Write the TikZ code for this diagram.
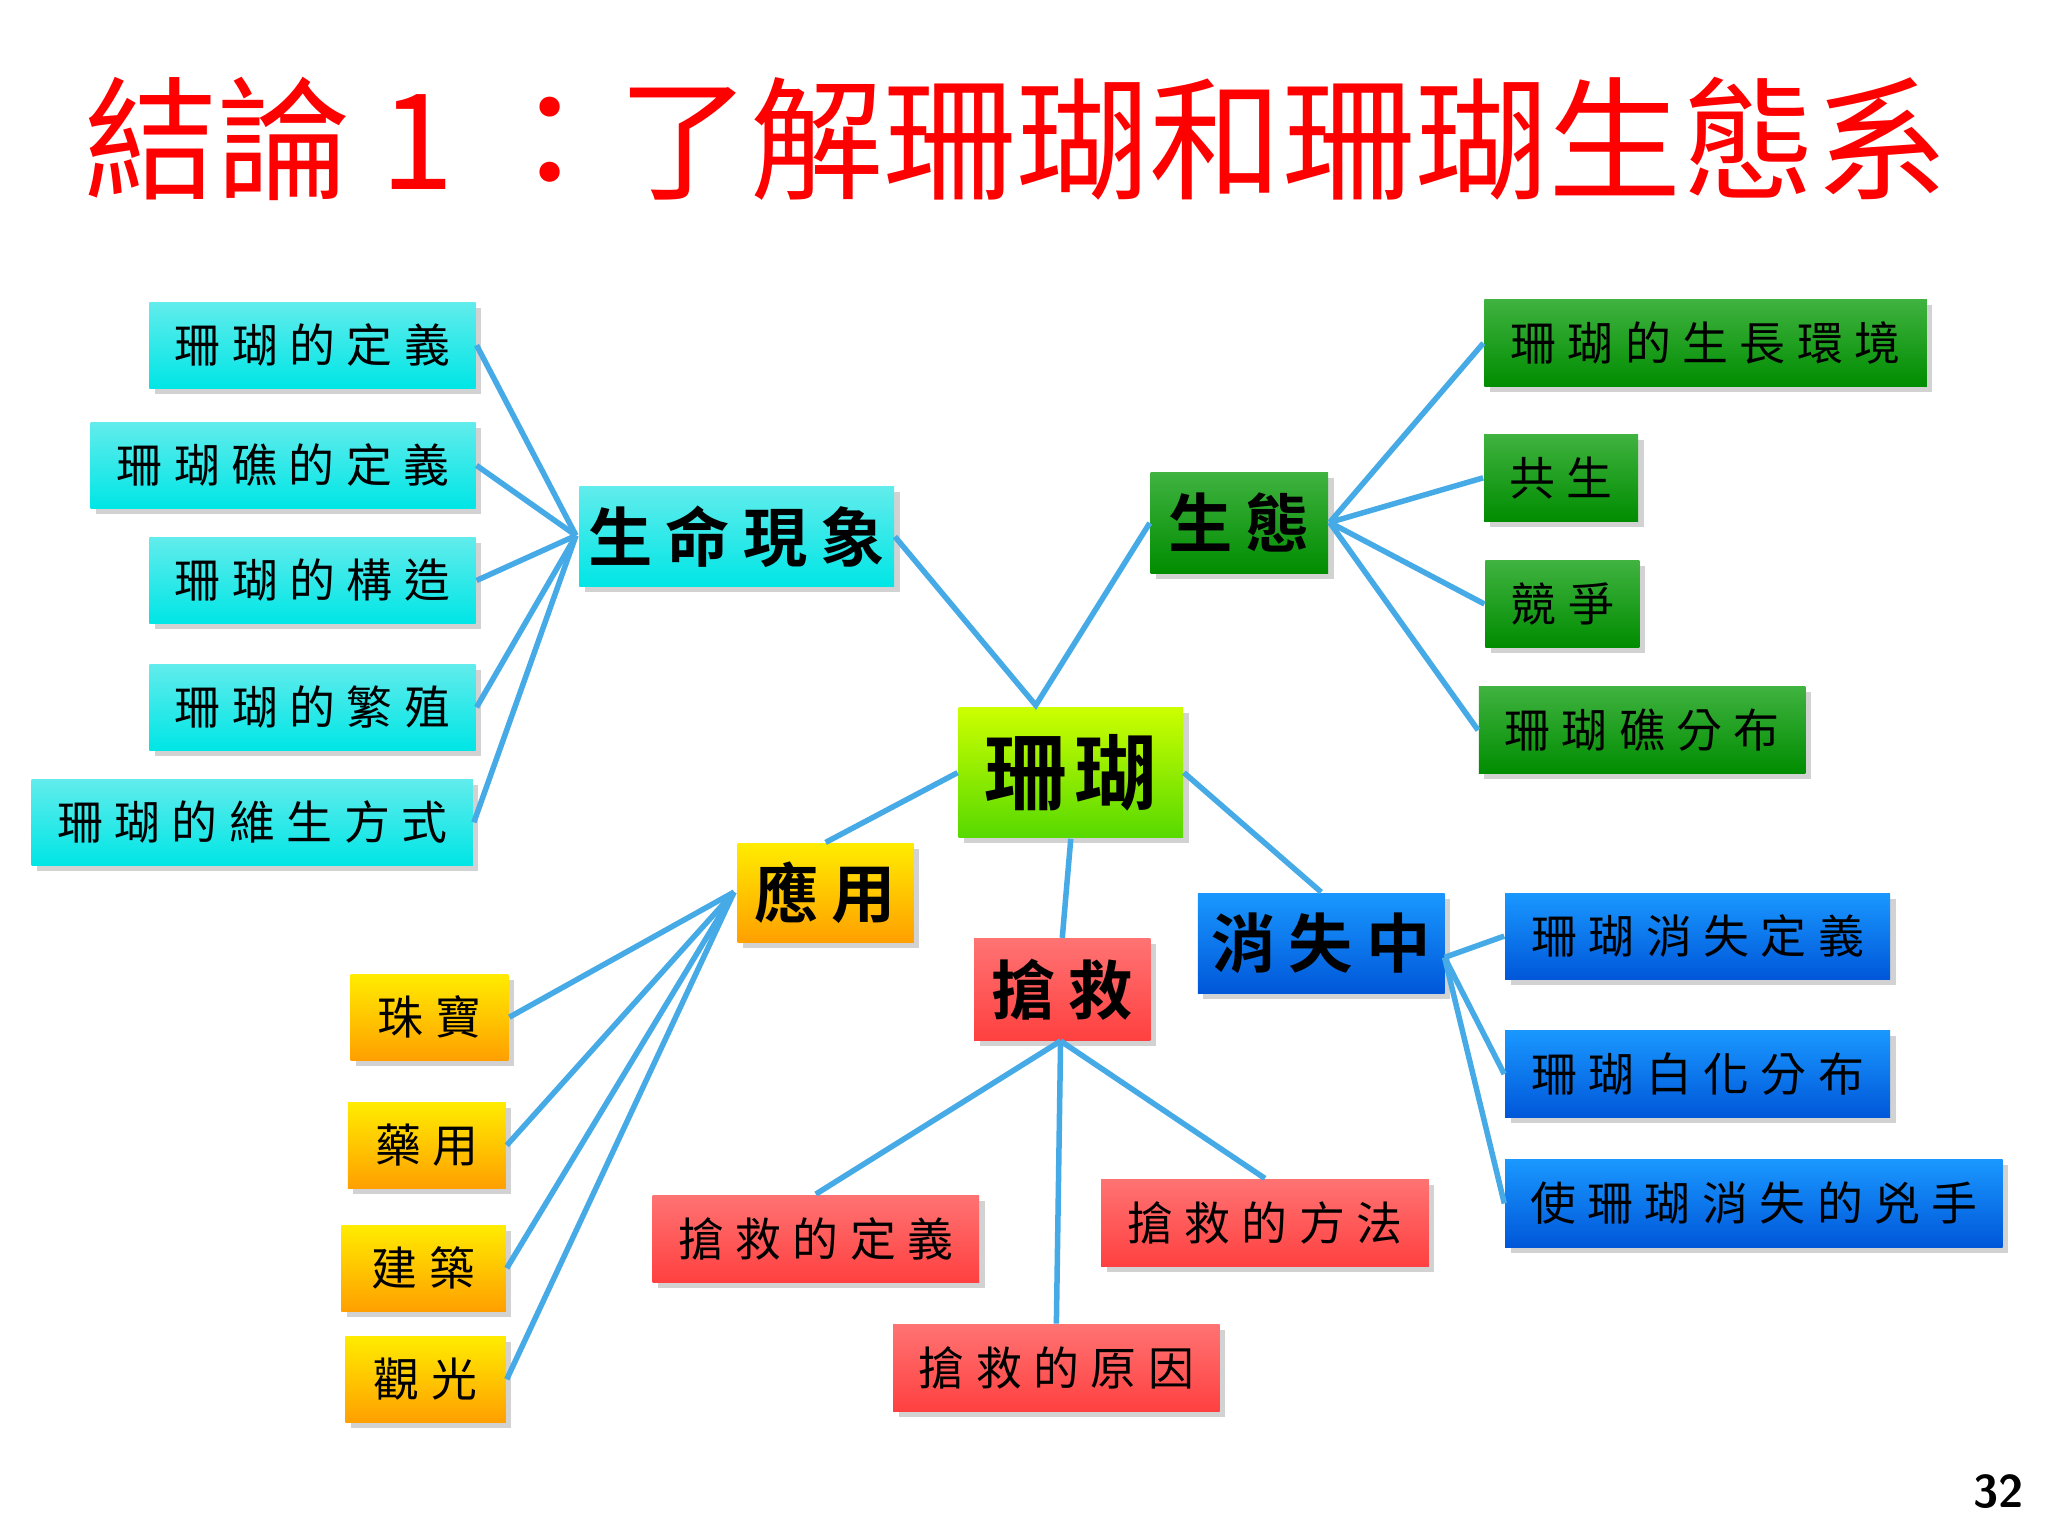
\documentclass[tikz,border=0pt]{standalone}
\usepackage{fontspec}
\newfontfamily\cjk{Noto Sans CJK TC}
\newfontfamily\cjkb{Noto Sans CJK TC Bold}
\usetikzlibrary{shadows}
\definecolor{ln}{HTML}{45AAE6}
\tikzset{
 bx/.style={draw=none,inner sep=0pt,drop shadow={shadow xshift=1.2pt,shadow yshift=-1.2pt,opacity=0.35}},
 cy/.style={bx,top color=cyan!55!white!85!teal,bottom color=cyan!80!teal},
 gr/.style={bx,top color=green!60!black!75!white,bottom color=green!55!black},
 ye/.style={bx,top color=yellow!85!orange,bottom color=orange!75!yellow},
 rd/.style={bx,top color=red!55!white,bottom color=red!75!white},
 bl/.style={bx,top color=blue!45!cyan!90!white,bottom color=blue!60!cyan!85!black},
 ce/.style={bx,top color=yellow!80!green,bottom color=green!60!yellow!85!black},
 sm/.style={font=\cjk\fontsize{10pt}{12pt}\selectfont\addfontfeature{LetterSpace=25}},
 bg/.style={font=\cjkb\fontsize{14pt}{16pt}\selectfont\addfontfeature{LetterSpace=20}},
 cn/.style={draw=ln,line width=1.2pt}
}
\newcommand\bx[7]{\node[#6,minimum width={(#4-#2)*0.01cm},minimum height={(#5-#3)*0.01cm}] (#1) at ({(#2+#4)*0.005},{-(#3+#5)*0.005}) {#7};}
\begin{document}
\begin{tikzpicture}
\useasboundingbox[fill=white] (0,0) rectangle (15.68,-11.76);
\node[text=red,font=\cjk\fontsize{29pt}{32pt}\selectfont,anchor=west] (title) at (0.52,-1.06) {結論 1 ：了解珊瑚和珊瑚生態系};
\node[font=\sffamily\bfseries\fontsize{10pt}{12pt}\selectfont] (pg) at (15.3,-11.42) {32};
% connectors first
\coordinate (L) at (4.41,-4.10);
\coordinate (G) at (10.18,-4.00);
\coordinate (Y) at (5.62,-6.83);
\coordinate (B) at (11.06,-7.33);
\coordinate (R) at (8.12,-7.97);
\coordinate (CT) at (7.93,-5.40);
\bx{c}{733}{541}{905}{641}{ce,font=\cjkb\fontsize{18pt}{20pt}\selectfont\addfontfeature{LetterSpace=10}}{珊瑚}
\bx{life}{443}{372}{684}{449}{cy,bg}{生命現象}
\bx{l1}{114}{231}{364}{297}{cy,sm}{珊瑚的定義}
\bx{l2}{69}{323}{364}{389}{cy,sm}{珊瑚礁的定義}
\bx{l3}{114}{411}{364}{477}{cy,sm}{珊瑚的構造}
\bx{l4}{114}{508}{364}{574}{cy,sm}{珊瑚的繁殖}
\bx{l5}{24}{596}{362}{662}{cy,sm}{珊瑚的維生方式}
\bx{eco}{880}{361}{1016}{439}{gr,bg}{生態}
\bx{g1}{1135}{229}{1474}{296}{gr,sm}{珊瑚的生長環境}
\bx{g2}{1135}{332}{1253}{399}{gr,sm}{共生}
\bx{g3}{1136}{429}{1254}{495}{gr,sm}{競爭}
\bx{g4}{1131}{525}{1381}{592}{gr,sm}{珊瑚礁分布}
\bx{app}{564}{645}{699}{721}{ye,bg}{應用}
\bx{y1}{268}{745}{389}{811}{ye,sm}{珠寶}
\bx{y2}{266}{843}{387}{909}{ye,sm}{藥用}
\bx{y3}{261}{937}{387}{1003}{ye,sm}{建築}
\bx{y4}{264}{1022}{387}{1088}{ye,sm}{觀光}
\bx{res}{745}{718}{880}{796}{rd,bg}{搶救}
\bx{r1}{499}{914}{749}{981}{rd,sm}{搶救的定義}
\bx{r2}{842}{902}{1093}{969}{rd,sm}{搶救的方法}
\bx{r3}{683}{1013}{933}{1080}{rd,sm}{搶救的原因}
\bx{dis}{916}{683}{1105}{760}{bl,bg}{消失中}
\bx{b1}{1151}{683}{1446}{749}{bl,sm}{珊瑚消失定義}
\bx{b2}{1151}{788}{1446}{855}{bl,sm}{珊瑚白化分布}
\bx{b3}{1151}{887}{1532}{954}{bl,sm}{使珊瑚消失的兇手}
\begin{scope}[on background layer/.try]
\foreach \n in {l1,l2,l3,l4,l5} \draw[cn] (L) -- (\n.east);
\foreach \n in {g1,g2,g3,g4} \draw[cn] (G) -- (\n.west);
\foreach \n in {y1,y2,y3,y4} \draw[cn] (Y) -- (\n.east);
\foreach \n in {b1,b2,b3} \draw[cn] (B) -- (\n.west);
\draw[cn] (R) -- (r1.north);
\draw[cn] (R) -- (r3.north);
\draw[cn] (R) -- (r2.north);
\draw[cn] (life.east) -- (CT) -- (eco.west);
\draw[cn] (c.east) -- (dis.north);
\draw[cn] (c.west) -- (app.north);
\draw[cn] (c.south) -- (res.north);
\end{scope}
\end{tikzpicture}
\end{document}
